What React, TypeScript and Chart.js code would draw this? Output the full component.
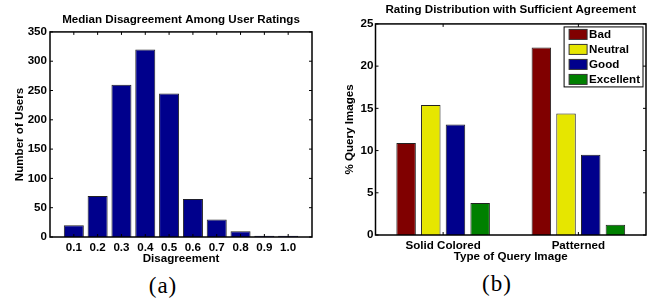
import React, { useEffect, useRef } from "react";
import { Chart, registerables } from "chart.js";

Chart.register(...registerables);

// ---------- Data: chart (a) ----------
const disagreementLevels = [0.1, 0.2, 0.3, 0.4, 0.5, 0.6, 0.7, 0.8, 0.9, 1.0];
const userCounts = [20, 70, 260, 320, 245, 65, 30, 10, 2, 2];
const histTitle = "Median Disagreement Among User Ratings";
const histXLabel = "Disagreement";
const histYLabel = "Number of Users";
const histColor = "#00008c";

// ---------- Data: chart (b) ----------
const imageTypes = ["Solid Colored", "Patterned"];
const ratingNames = ["Bad", "Neutral", "Good", "Excellent"];
const badPct = [10.9, 22.2];
const neutralPct = [15.4, 14.4];
const goodPct = [13.1, 9.5];
const excellentPct = [3.8, 1.2];
const ratingColors = ["#800000", "#e6e600", "#00008c", "#008000"];
const distTitle = "Rating Distribution with Sufficient Agreement";
const distXLabel = "Type of Query Image";
const distYLabel = "% Query Images";

const captions = ["(a)", "(b)"];

const FONT_FAMILY = "'Liberation Sans', Arial, Helvetica, sans-serif";
const FONT_SIZE = 11.6;
const boldFont = { family: FONT_FAMILY, size: FONT_SIZE, weight: "bold" as const };

// Center the chart title over the plot area (MATLAB style)
const titleOverAreaPlugin = {
  id: "titleOverArea",
  afterLayout(chart: any) {
    const t = chart.titleBlock;
    if (t) {
      t.left = chart.chartArea.left;
      t.right = chart.chartArea.right;
      t.width = t.right - t.left;
    }
  },
};

const framePlugin = {
  id: "matlabFrame",
  afterDatasetsDraw(chart: any) {
    const { ctx, chartArea: a } = chart;
    const xs = chart.scales.x;
    const ys = chart.scales.y;
    const L = 3;
    ctx.save();
    ctx.strokeStyle = "#000";
    ctx.lineWidth = 1;
    ctx.beginPath();
    xs.ticks.forEach((_t: any, i: number) => {
      const px = xs.getPixelForTick(i);
      ctx.moveTo(px, a.bottom);
      ctx.lineTo(px, a.bottom - L);
      ctx.moveTo(px, a.top);
      ctx.lineTo(px, a.top + L);
    });
    ys.ticks.forEach((_t: any, i: number) => {
      const py = ys.getPixelForTick(i);
      ctx.moveTo(a.left, py);
      ctx.lineTo(a.left + L, py);
      ctx.moveTo(a.right, py);
      ctx.lineTo(a.right - L, py);
    });
    ctx.stroke();
    ctx.lineWidth = 1.5;
    ctx.strokeRect(a.left, a.top, a.right - a.left, a.bottom - a.top);
    ctx.restore();
  },
};

const insideLegendPlugin = {
  id: "insideLegend",
  afterDraw(chart: any) {
    const { ctx, chartArea: a } = chart;
    const ds = chart.data.datasets;
    ctx.save();
    ctx.font = `bold ${FONT_SIZE}px ${FONT_FAMILY}`;
    let maxW = 0;
    ds.forEach((d: any) => {
      maxW = Math.max(maxW, ctx.measureText(d.label).width);
    });
    const rowH = 15;
    const w = 25 + maxW + 3;
    const h = rowH * ds.length;
    const x0 = a.right - 3 - w;
    const y0 = a.top + 3;
    ctx.fillStyle = "#fff";
    ctx.fillRect(x0, y0, w, h);
    ctx.strokeStyle = "#000";
    ctx.lineWidth = 1;
    ctx.strokeRect(x0, y0, w, h);
    ds.forEach((d: any, i: number) => {
      const cy = y0 + 7.5 + i * rowH;
      ctx.fillStyle = d.backgroundColor;
      ctx.fillRect(x0 + 5, cy - 5, 18, 10);
      ctx.strokeStyle = "#333";
      ctx.strokeRect(x0 + 5, cy - 5, 18, 10);
      ctx.fillStyle = "#000";
      ctx.textBaseline = "middle";
      ctx.textAlign = "left";
      ctx.fillText(d.label, x0 + 25, cy + 0.5);
    });
    ctx.restore();
  },
};

function HistChart() {
  const ref = useRef<HTMLCanvasElement>(null);
  useEffect(() => {
    if (!ref.current) return;
    const chart = new Chart(ref.current, {
      type: "bar",
      data: {
        datasets: [
          {
            label: histYLabel,
            data: disagreementLevels.map((x, i) => ({ x, y: userCounts[i] })),
            backgroundColor: histColor,
            borderColor: "#222",
            borderWidth: 1,
            barPercentage: 0.84,
            categoryPercentage: 1,
          },
        ],
      },
      options: {
        animation: false,
        responsive: false,
        maintainAspectRatio: false,
        devicePixelRatio: 1,
        layout: { padding: { left: 0, right: 18, top: 0, bottom: 0 } },
        plugins: {
          legend: { display: false },
          tooltip: { enabled: false },
          title: {
            display: true,
            text: histTitle,
            color: "#000",
            font: boldFont,
            padding: { top: 13, bottom: 5 },
          },
        },
        scales: {
          x: {
            type: "linear",
            min: 0,
            max: 1.1,
            offset: false,
            grid: { display: false, drawTicks: false },
            border: { display: false },
            ticks: {
              stepSize: 0.1,
              color: "#000",
              font: boldFont,
              padding: 4,
              maxRotation: 0,
              autoSkip: false,
              callback: (v: any) => Number(v).toFixed(1),
            },
            afterBuildTicks: (scale: any) => {
              scale.ticks = scale.ticks.filter(
                (t: any) => t.value > 0.05 && t.value < 1.05
              );
            },
            afterFit: (scale: any) => {
              scale.height = 29;
            },
            title: {
              display: true,
              text: histXLabel,
              color: "#000",
              font: boldFont,
              padding: { top: 0, bottom: 0 },
            },
          },
          y: {
            min: 0,
            max: 350,
            grid: { display: false, drawTicks: false },
            border: { display: false },
            ticks: { stepSize: 50, color: "#000", font: boldFont, padding: 3 },
            afterFit: (scale: any) => {
              scale.width = 50;
            },
            title: {
              display: true,
              text: histYLabel,
              color: "#000",
              font: boldFont,
              padding: { top: 13, bottom: 0 },
            },
          },
        },
      },
      plugins: [titleOverAreaPlugin, framePlugin],
    } as any);
    return () => chart.destroy();
  }, []);
  return <canvas ref={ref} width={330} height={266} />;
}

function DistChart() {
  const ref = useRef<HTMLCanvasElement>(null);
  useEffect(() => {
    if (!ref.current) return;
    const series = [badPct, neutralPct, goodPct, excellentPct];
    const chart = new Chart(ref.current, {
      type: "bar",
      data: {
        labels: imageTypes,
        datasets: series.map((vals, i) => ({
          label: ratingNames[i],
          data: vals,
          backgroundColor: ratingColors[i],
          borderColor: "#222",
          borderWidth: 1,
          barPercentage: 0.79,
          categoryPercentage: 0.73,
        })),
      },
      options: {
        animation: false,
        responsive: false,
        maintainAspectRatio: false,
        devicePixelRatio: 1,
        layout: { padding: { left: 0, right: 11, top: 0, bottom: 0 } },
        plugins: {
          legend: { display: false },
          tooltip: { enabled: false },
          title: {
            display: true,
            text: distTitle,
            color: "#000",
            font: boldFont,
            padding: { top: 3, bottom: 7 },
          },
        },
        scales: {
          x: {
            type: "category",
            offset: true,
            grid: { display: false, drawTicks: false, offset: false },
            border: { display: false },
            ticks: { color: "#000", font: boldFont, padding: 4, maxRotation: 0 },
            afterFit: (scale: any) => {
              scale.height = 31;
            },
            title: {
              display: true,
              text: distXLabel,
              color: "#000",
              font: boldFont,
              padding: { top: 0, bottom: 2 },
            },
          },
          y: {
            min: 0,
            max: 25,
            grid: { display: false, drawTicks: false },
            border: { display: false },
            ticks: { stepSize: 5, color: "#000", font: boldFont, padding: 2 },
            afterFit: (scale: any) => {
              scale.width = 45.5;
            },
            title: {
              display: true,
              text: distYLabel,
              color: "#000",
              font: boldFont,
              padding: { top: 13, bottom: 0 },
            },
          },
        },
      },
      plugins: [titleOverAreaPlugin, framePlugin, insideLegendPlugin],
    } as any);
    return () => chart.destroy();
  }, []);
  return <canvas ref={ref} width={327} height={266} />;
}

const captionStyle: React.CSSProperties = {
  position: "absolute",
  width: 100,
  textAlign: "center",
  fontFamily: "'Liberation Serif', 'Times New Roman', serif",
  fontSize: 23,
  letterSpacing: 1,
  lineHeight: "24px",
  color: "#000",
};

export default function App() {
  return (
    <div
      style={{
        position: "absolute",
        left: 0,
        top: 0,
        width: 657,
        height: 302,
        background: "#fff",
        overflow: "hidden",
      }}
    >
      <div style={{ position: "absolute", left: 0, top: 0, width: 330, height: 266 }}>
        <HistChart />
      </div>
      <div style={{ position: "absolute", left: 330, top: 0, width: 327, height: 266 }}>
        <DistChart />
      </div>
      <div style={{ ...captionStyle, left: 113, top: 274 }}>{captions[0]}</div>
      <div style={{ ...captionStyle, left: 447, top: 272 }}>{captions[1]}</div>
    </div>
  );
}
